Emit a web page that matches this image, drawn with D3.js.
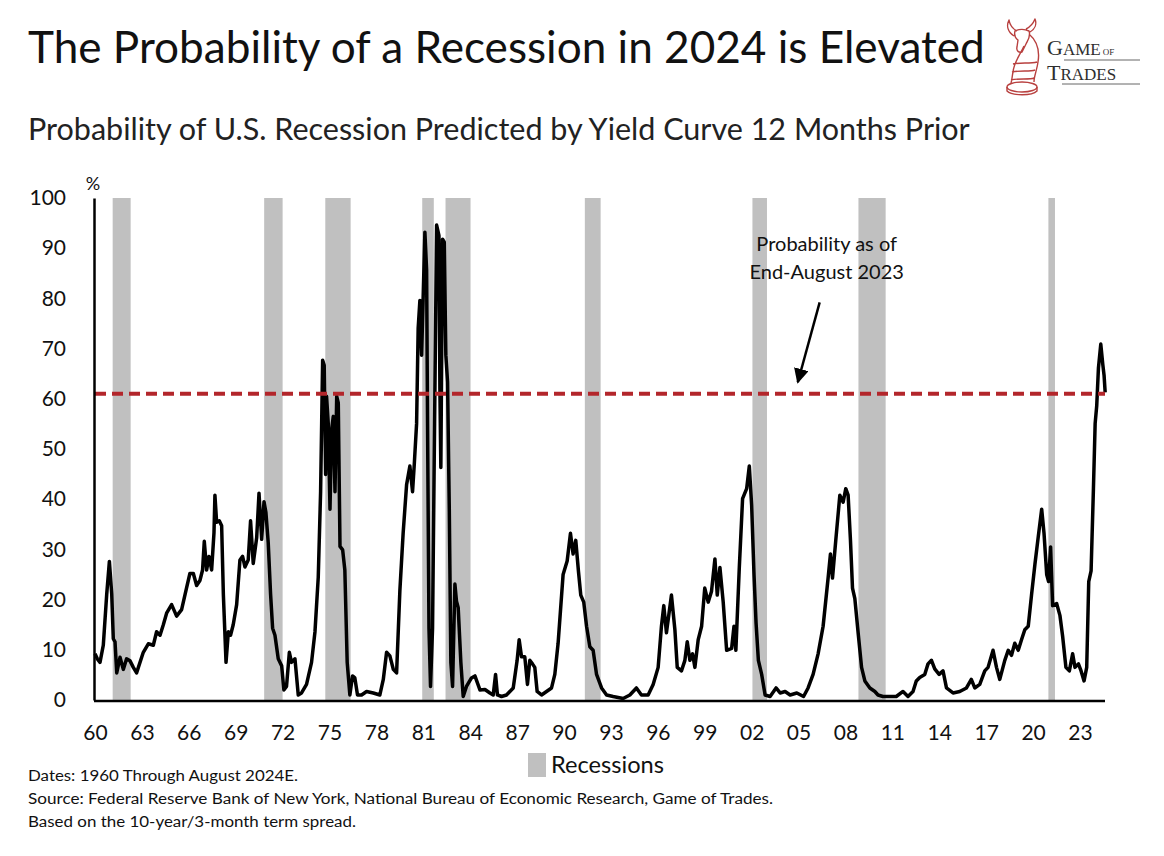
<!DOCTYPE html>
<html>
<head>
<meta charset="utf-8">
<script src="https://cdn.jsdelivr.net/npm/d3@7"></script>
<style>
  body { margin: 0; background: #fff; }
  svg { display: block; font-family: Lato, "Open Sans", sans-serif; }
</style>
</head>
<body>
<svg id="chart" width="1164" height="856"></svg>
<script>
// x values are in the chart's own axis units (labels 60 ... 23)
var years = [
  1960.00, 1960.15, 1960.32, 1960.53, 1960.75, 1960.92, 1961.07, 1961.17, 1961.28, 1961.39,
  1961.60, 1961.81, 1962.02, 1962.24, 1962.45, 1962.66, 1963.09, 1963.41, 1963.73, 1963.94,
  1964.16, 1964.37, 1964.58, 1964.90, 1965.22, 1965.54, 1965.86, 1966.07, 1966.29, 1966.50,
  1966.71, 1966.88, 1966.99, 1967.14, 1967.29, 1967.46, 1967.61, 1967.67, 1967.78, 1967.95,
  1968.10, 1968.21, 1968.38, 1968.53, 1968.67, 1968.84, 1969.06, 1969.27, 1969.44, 1969.59,
  1969.80, 1969.95, 1970.12, 1970.34, 1970.49, 1970.66, 1970.81, 1970.93, 1971.08, 1971.23,
  1971.36, 1971.51, 1971.72, 1971.94, 1972.08, 1972.25, 1972.43, 1972.57, 1972.79, 1973.00,
  1973.21, 1973.53, 1973.85, 1974.07, 1974.28, 1974.43, 1974.56, 1974.66, 1974.75, 1974.81,
  1974.92, 1975.03, 1975.13, 1975.24, 1975.35, 1975.46, 1975.56, 1975.67, 1975.84, 1975.98,
  1976.13, 1976.30, 1976.47, 1976.62, 1976.79, 1977.05, 1977.37, 1977.80, 1978.22, 1978.44,
  1978.65, 1978.86, 1979.08, 1979.29, 1979.50, 1979.71, 1979.93, 1980.14, 1980.31, 1980.42,
  1980.57, 1980.67, 1980.78, 1980.89, 1980.99, 1981.10, 1981.21, 1981.27, 1981.36, 1981.46,
  1981.59, 1981.72, 1981.85, 1982.00, 1982.06, 1982.12, 1982.23, 1982.34, 1982.44, 1982.55,
  1982.66, 1982.76, 1982.87, 1983.02, 1983.12, 1983.23, 1983.40, 1983.55, 1983.76, 1984.08,
  1984.30, 1984.62, 1984.94, 1985.26, 1985.47, 1985.62, 1985.74, 1986.00, 1986.32, 1986.75,
  1987.00, 1987.13, 1987.28, 1987.49, 1987.66, 1987.81, 1987.98, 1988.13, 1988.28, 1988.56,
  1988.88, 1989.20, 1989.41, 1989.62, 1989.94, 1990.20, 1990.41, 1990.58, 1990.75, 1990.92,
  1991.07, 1991.26, 1991.44, 1991.65, 1991.86, 1992.08, 1992.40, 1992.72, 1993.14, 1993.78,
  1994.21, 1994.63, 1994.95, 1995.38, 1995.70, 1996.02, 1996.23, 1996.38, 1996.55, 1996.87,
  1997.09, 1997.24, 1997.51, 1997.73, 1997.88, 1998.05, 1998.22, 1998.37, 1998.58, 1998.80,
  1999.00, 1999.22, 1999.43, 1999.65, 1999.80, 1999.97, 2000.18, 2000.40, 2000.72, 2000.87,
  2000.99, 2001.21, 2001.42, 2001.68, 2001.85, 2002.00, 2002.15, 2002.28, 2002.43, 2002.64,
  2002.86, 2003.18, 2003.56, 2003.82, 2004.14, 2004.46, 2004.89, 2005.32, 2005.61, 2005.93,
  2006.25, 2006.57, 2006.89, 2007.04, 2007.17, 2007.38, 2007.64, 2007.85, 2008.02, 2008.17,
  2008.32, 2008.45, 2008.60, 2008.81, 2009.03, 2009.24, 2009.56, 2009.88, 2010.08, 2010.40,
  2010.83, 2011.25, 2011.68, 2012.00, 2012.32, 2012.53, 2012.75, 2013.07, 2013.28, 2013.50,
  2013.71, 2013.99, 2014.24, 2014.46, 2014.88, 2015.31, 2015.74, 2016.05, 2016.27, 2016.59,
  2016.91, 2017.12, 2017.44, 2017.66, 2017.87, 2018.19, 2018.41, 2018.62, 2018.83, 2019.05,
  2019.26, 2019.47, 2019.69, 2019.90, 2020.12, 2020.33, 2020.55, 2020.70, 2020.87, 2020.99,
  2021.12, 2021.25, 2021.51, 2021.72, 2021.89, 2022.10, 2022.32, 2022.53, 2022.68, 2022.90,
  2023.07, 2023.26, 2023.43, 2023.56, 2023.71, 2023.86, 2023.97, 2024.07, 2024.18, 2024.33,
  2024.46, 2024.54, 2024.61
];
var probability = [
  9.2, 8.2, 7.5, 10.9, 21.1, 27.6, 21.1, 12.2, 11.6, 5.4,
  8.5, 6.1, 8.2, 7.8, 6.5, 5.4, 9.5, 11.2, 10.9, 13.6,
  12.9, 15.0, 17.3, 19.0, 16.7, 18.0, 22.4, 25.2, 25.2, 22.8,
  23.8, 25.9, 31.6, 25.9, 28.6, 25.9, 33.3, 40.8, 35.4, 35.7,
  34.7, 21.0, 7.5, 13.6, 12.9, 15.0, 19.0, 27.9, 28.6, 26.5,
  27.9, 35.7, 27.2, 32.3, 41.2, 32.0, 39.5, 37.4, 31.3, 21.1,
  14.3, 12.9, 8.2, 6.8, 2.0, 2.7, 9.5, 7.5, 8.2, 1.0,
  1.4, 3.1, 7.5, 13.6, 24.5, 41.5, 67.7, 66.7, 44.9, 60.5,
  55.0, 38.0, 53.7, 56.5, 41.5, 60.5, 59.2, 30.6, 29.9, 25.9,
  7.5, 1.0, 4.8, 4.4, 1.0, 1.0, 1.7, 1.4, 1.0, 4.1,
  9.5, 8.8, 6.1, 5.4, 21.8, 33.3, 42.9, 46.6, 41.5, 46.9,
  55.1, 74.1, 79.6, 68.7, 80.3, 93.2, 85.7, 55.1, 14.3, 2.7,
  14.3, 55.1, 94.6, 92.5, 61.9, 46.3, 91.8, 91.2, 68.7, 63.3,
  38.1, 7.5, 2.7, 23.1, 19.7, 18.4, 7.5, 0.7, 2.7, 4.4,
  4.8, 2.0, 2.1, 1.4, 1.0, 5.1, 1.0, 0.7, 1.0, 2.4,
  7.9, 12.0, 8.6, 8.6, 3.1, 7.9, 7.2, 6.5, 1.7, 1.0,
  1.7, 2.4, 5.1, 11.3, 25.0, 27.7, 33.2, 29.1, 31.8, 25.7,
  20.9, 19.5, 14.7, 10.6, 9.9, 5.1, 2.4, 1.0, 0.7, 0.3,
  1.0, 2.4, 1.0, 1.0, 3.1, 6.5, 14.7, 18.8, 13.4, 20.9,
  14.0, 6.5, 5.8, 7.9, 11.6, 7.9, 9.2, 6.5, 12.0, 14.7,
  22.3, 19.5, 21.6, 28.1, 20.9, 26.4, 19.5, 9.9, 10.3, 14.7,
  9.9, 26.4, 40.1, 42.1, 46.6, 38.7, 25.0, 15.4, 7.9, 5.1,
  1.0, 0.7, 2.4, 1.4, 1.7, 1.0, 1.4, 0.7, 2.4, 5.1,
  9.2, 14.7, 24.3, 29.1, 24.3, 31.8, 40.8, 39.4, 42.1, 40.8,
  31.8, 22.3, 20.2, 13.4, 6.5, 3.8, 2.4, 1.7, 1.0, 0.7,
  0.7, 0.7, 1.7, 0.7, 1.7, 3.8, 4.5, 5.1, 7.2, 7.9,
  6.2, 5.1, 5.8, 2.4, 1.4, 1.7, 2.4, 4.1, 2.4, 3.1,
  5.8, 6.5, 9.9, 6.5, 4.1, 7.9, 9.9, 8.9, 11.3, 9.9,
  12.0, 14.0, 14.7, 20.9, 27.1, 32.5, 38.0, 33.2, 25.0, 23.6,
  30.5, 18.8, 19.2, 16.8, 12.7, 6.5, 5.8, 9.2, 6.5, 7.2,
  5.8, 3.8, 6.5, 23.6, 25.7, 42.1, 55.1, 58.6, 66.1, 70.9,
  66.8, 64.7, 61.3
];
var recessionStart = [1961.13, 1970.82, 1974.73, 1980.93, 1982.42, 1991.33, 2002.05, 2008.83, 2020.98];
var recessionEnd   = [1962.28, 1972.00, 1976.35, 1981.67, 1984.02, 1992.34, 2002.98, 2010.57, 2021.40];
var xTicks = d3.range(1960, 2024, 3);
var yTicks = d3.range(0, 101, 10);
var latestProbability = 61;
var footnotes = [
  "Dates: 1960 Through August 2024E.",
  "Source: Federal Reserve Bank of New York, National Bureau of Economic Research, Game of Trades.",
  "Based on the 10-year/3-month term spread."
];

var svg = d3.select("#chart");

var x = d3.scaleLinear()
    .domain([1960, 2024.6])
    .range([95, 1105]);
var y = d3.scaleLinear()
    .domain([0, 100])
    .range([700, 198]);

// shrink or grow a text so it spans the width it has in the picture
function fitWidth(sel, w) {
    var cur = sel.node().getComputedTextLength();
    var fs = parseFloat(sel.attr("font-size"));
    sel.attr("font-size", (fs * w / cur).toFixed(2));
}

// titles
var title = svg.append("text")
    .attr("x", 28).attr("y", 63)
    .attr("font-size", 38).attr("fill", "#111")
    .text("The Probability of a Recession in 2024 is Elevated");
fitWidth(title, 957);

var subtitle = svg.append("text")
    .attr("x", 28).attr("y", 140)
    .attr("font-size", 26).attr("fill", "#222")
    .text("Probability of U.S. Recession Predicted by Yield Curve 12 Months Prior");
fitWidth(subtitle, 942);

// logo
var logo = svg.append("g").attr("class", "logo");
logo.append("path")
    .attr("fill", "none").attr("stroke", "#b8403f").attr("stroke-width", 1.4)
    .attr("stroke-linejoin", "round")
    .attr("d", "M1014,36 C1008,32 1006,26 1009,20 C1010,26 1013,29 1017,31" +
               " M1030,32 C1035,29 1037,24 1035,19 C1033,24 1030,27 1026,29" +
               " M1015,31 C1019,29 1025,29 1029,31 C1031,36 1028,40 1026,44" +
               " L1022,52 C1019,53 1016,51 1017,47 L1018,40 C1015,38 1014,35 1015,31 Z" +
               " M1029,34 C1036,40 1040,50 1038,62 C1037,70 1034,76 1034,82" +
               " M1024,46 C1020,55 1014,62 1013,72 C1012,77 1012,80 1011,83" +
               " M1013,64 C1020,62 1030,64 1037,62 M1012,72 C1020,70 1030,72 1035,70" +
               " M1011,80 C1018,78 1030,80 1034,78");
logo.append("ellipse")
    .attr("cx", 1022).attr("cy", 87).attr("rx", 15).attr("ry", 5)
    .attr("fill", "none").attr("stroke", "#b8403f").attr("stroke-width", 1.4);
logo.append("path")
    .attr("fill", "none").attr("stroke", "#b8403f").attr("stroke-width", 1.4)
    .attr("d", "M1007,87 L1007,91 C1012,96 1032,96 1037,91 L1037,87");

var logoText1 = logo.append("text")
    .attr("x", 1047).attr("y", 55)
    .attr("font-family", "'Liberation Serif', 'DejaVu Serif', serif")
    .attr("fill", "#2e2e2e");
logoText1.append("tspan").attr("font-size", 22).text("G");
logoText1.append("tspan").attr("font-size", 17).text("AME");
logoText1.append("tspan").attr("font-size", 9).attr("dx", 2).text("OF");
var logoText2 = logo.append("text")
    .attr("x", 1047).attr("y", 80)
    .attr("font-family", "'Liberation Serif', 'DejaVu Serif', serif")
    .attr("fill", "#2e2e2e");
logoText2.append("tspan").attr("font-size", 22).text("T");
logoText2.append("tspan").attr("font-size", 17).text("RADES");
logo.append("line")
    .attr("x1", 1064).attr("x2", 1140).attr("y1", 60).attr("y2", 60)
    .attr("stroke", "#666").attr("stroke-width", 1);
logo.append("line")
    .attr("x1", 1062).attr("x2", 1140).attr("y1", 84).attr("y2", 84)
    .attr("stroke", "#666").attr("stroke-width", 1);

// recession bands
var recessions = recessionStart.map(function (s, i) { return [s, recessionEnd[i]]; });
svg.append("g").selectAll("rect")
    .data(recessions)
    .enter().append("rect")
    .attr("x", function (d) { return x(d[0]); })
    .attr("y", y(100))
    .attr("width", function (d) { return x(d[1]) - x(d[0]); })
    .attr("height", y(0) - y(100))
    .attr("fill", "#c0c0c0");

// probability line
var series = years.map(function (t, i) { return [t, probability[i]]; });
var line = d3.line()
    .x(function (d) { return x(d[0]); })
    .y(function (d) { return y(d[1]); });
svg.append("path")
    .datum(series)
    .attr("fill", "none")
    .attr("stroke", "#000")
    .attr("stroke-width", 3.5)
    .attr("stroke-linejoin", "round")
    .attr("d", line);

// level as of end-August 2023
svg.append("line")
    .attr("x1", x(1960)).attr("x2", x(2024.6))
    .attr("y1", y(latestProbability)).attr("y2", y(latestProbability))
    .attr("stroke", "#b3262b")
    .attr("stroke-width", 4)
    .attr("stroke-dasharray", "11,6");

// axes
var xAxis = d3.axisBottom(x)
    .tickValues(xTicks)
    .tickSize(0)
    .tickPadding(24)
    .tickFormat(function (d) { return String(d % 100).padStart(2, "0"); });
var yAxis = d3.axisLeft(y)
    .tickValues(yTicks)
    .tickSize(0)
    .tickPadding(28);

var gx = svg.append("g")
    .attr("transform", "translate(0," + (y(0) + 1) + ")")
    .call(xAxis);
var gy = svg.append("g")
    .attr("transform", "translate(94,0)")
    .call(yAxis);
[gx, gy].forEach(function (g) {
    g.select(".domain").attr("stroke", "#000").attr("stroke-width", 2.5);
    g.selectAll("text")
        .attr("font-family", "Lato, 'Open Sans', sans-serif")
        .attr("font-size", 21)
        .attr("fill", "#111");
});
gx.select(".domain").attr("d", "M94,0H" + x(2024.6));

svg.append("text")
    .attr("x", 93).attr("y", 190)
    .attr("text-anchor", "middle")
    .attr("font-size", 18).attr("fill", "#111")
    .text("%");

// annotation
var note = svg.append("g").attr("font-size", 20).attr("fill", "#111").attr("text-anchor", "middle");
var n1 = note.append("text").attr("x", x(2006.8)).attr("y", y(89.4)).text("Probability as of");
var n2 = note.append("text").attr("x", x(2006.8)).attr("y", y(83.8)).text("End-August 2023");
fitWidth(n1, 171);
fitWidth(n2, 180);

svg.append("defs").append("marker")
    .attr("id", "head")
    .attr("viewBox", "0 0 10 10")
    .attr("refX", 9).attr("refY", 5)
    .attr("markerWidth", 6).attr("markerHeight", 6)
    .attr("markerUnits", "strokeWidth")
    .attr("orient", "auto")
    .append("path")
    .attr("d", "M0,0 L10,5 L0,10 Z")
    .attr("fill", "#000");
svg.append("line")
    .attr("x1", x(2006.35)).attr("y1", y(79.2))
    .attr("x2", x(2004.95)).attr("y2", y(63.3))
    .attr("stroke", "#000")
    .attr("stroke-width", 2.5)
    .attr("marker-end", "url(#head)");

// legend
svg.append("rect")
    .attr("x", 528).attr("y", 753)
    .attr("width", 18).attr("height", 24)
    .attr("fill", "#c0c0c0");
var leg = svg.append("text")
    .attr("x", 551).attr("y", 773)
    .attr("font-size", 21).attr("fill", "#111")
    .text("Recessions");
fitWidth(leg, 113);

// footnotes
var footWidths = [270, 745, 328];
svg.append("g").selectAll("text")
    .data(footnotes)
    .enter().append("text")
    .attr("x", 28)
    .attr("y", function (d, i) { return 781 + i * 23; })
    .attr("font-size", 14.5)
    .attr("fill", "#111")
    .attr("textLength", function (d, i) { return footWidths[i]; })
    .attr("lengthAdjust", "spacingAndGlyphs")
    .text(function (d) { return d; });
</script>
</body>
</html>
